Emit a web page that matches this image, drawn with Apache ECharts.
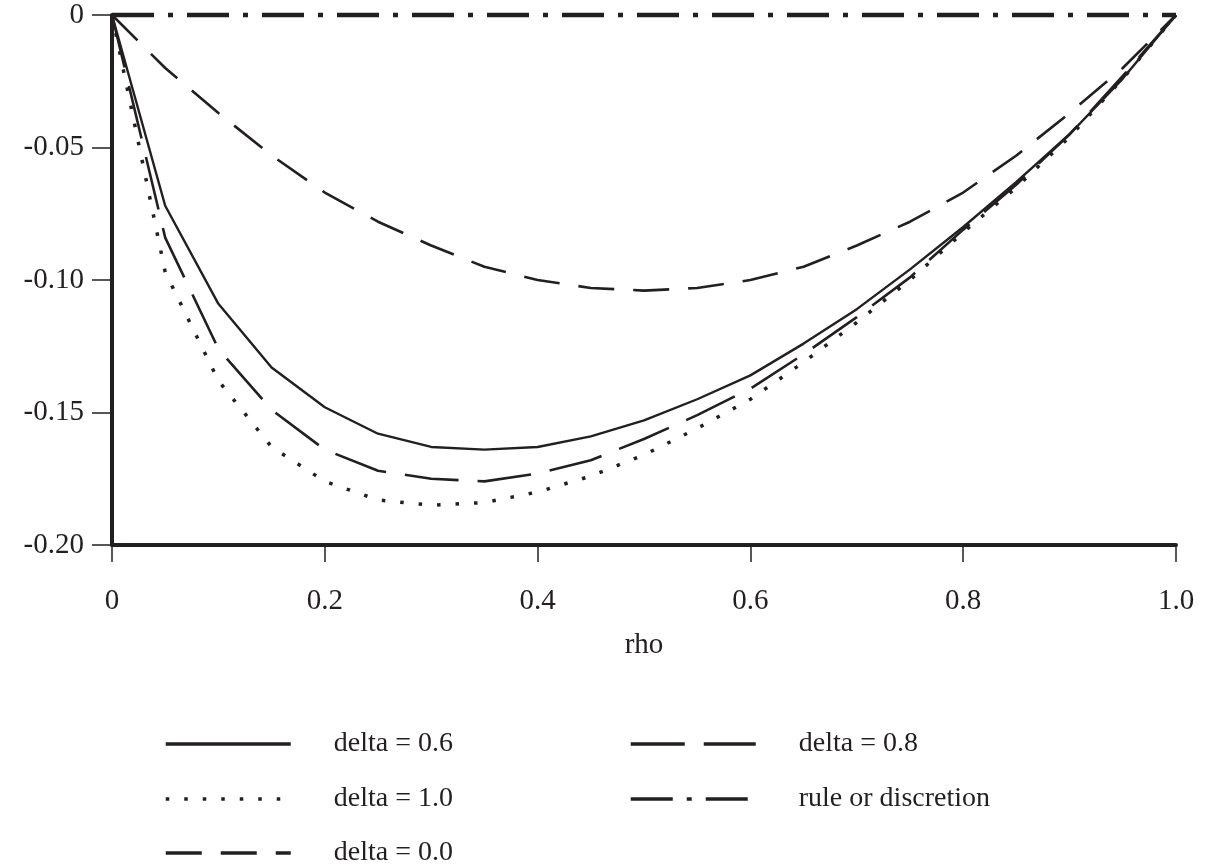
<!DOCTYPE html>
<html>
<head>
<meta charset="utf-8">
<script src="https://cdn.jsdelivr.net/npm/echarts@6/dist/echarts.min.js"></script>
<style>html,body{margin:0;padding:0;background:#fff}#c{width:1207px;height:864px}</style>
</head>
<body>
<div id="c"></div>
<script>
var rho = [0,0.05,0.1,0.15,0.2,0.25,0.3,0.35,0.4,0.45,0.5,0.55,0.6,0.65,0.7,0.75,0.8,0.85,0.9,0.95,1.0];
var delta06 = [0,-0.072,-0.109,-0.133,-0.148,-0.158,-0.163,-0.164,-0.163,-0.159,-0.153,-0.145,-0.136,-0.124,-0.111,-0.096,-0.080,-0.063,-0.045,-0.024,0];
var delta08 = [0,-0.084,-0.126,-0.149,-0.164,-0.172,-0.175,-0.176,-0.173,-0.168,-0.160,-0.151,-0.141,-0.128,-0.114,-0.099,-0.081,-0.064,-0.045,-0.023,0];
var delta10 = [0,-0.097,-0.138,-0.163,-0.176,-0.183,-0.185,-0.184,-0.180,-0.174,-0.166,-0.156,-0.145,-0.131,-0.116,-0.100,-0.082,-0.065,-0.046,-0.024,0];
var delta00 = [0,-0.020,-0.037,-0.053,-0.067,-0.078,-0.087,-0.095,-0.100,-0.103,-0.104,-0.103,-0.100,-0.095,-0.087,-0.078,-0.067,-0.053,-0.037,-0.020,0];
var ruleVals = [0,0,0,0,0,0,0,0,0,0,0,0,0,0,0,0,0,0,0,0,0];
var xTickLabels = ['0','0.2','0.4','0.6','0.8','1.0'];
var yTickLabels = ['-0.20','-0.15','-0.10','-0.05','0'];
var names = ['delta = 0.6','delta = 0.8','delta = 1.0','rule or discretion','delta = 0.0'];

function pairs(v){ return rho.map(function(r,i){ return [r, v[i]]; }); }
var ink = '#231f20';
var font = 'Liberation Serif';

function mk(name, vals, type, width){
  return {
    name: name, type: 'line', data: pairs(vals), symbol: 'none', showSymbol: false, clip: false,
    lineStyle: {color: ink, width: width, type: type, cap: 'butt'},
    itemStyle: {color: ink}, emphasis: {disabled: true}, animation: false
  };
}

function leg(name, left, top){
  return {
    orient: 'horizontal', left: left, top: top,
    itemWidth: 125, itemHeight: 20,
    itemStyle: {opacity: 0, borderWidth: 0},
    lineStyle: {width: 3.5},
    textStyle: {fontFamily: font, fontSize: 28, color: ink, lineHeight: 30, padding: [0,0,0,38]},
    selectedMode: false, data: [name]
  };
}

var chart = echarts.init(document.getElementById('c'), null, {renderer: 'canvas'});
chart.setOption({
  backgroundColor: '#fff',
  animation: false,
  grid: {left: 112, right: 31, top: 15, bottom: 319, containLabel: false},
  legend: [
    leg(names[0], 159, 724),
    leg(names[1], 624, 724),
    leg(names[2], 159, 779),
    leg(names[3], 624, 779),
    leg(names[4], 159, 833)
  ],
  xAxis: {
    type: 'value', min: 0, max: 1, interval: 0.2,
    name: 'rho', nameLocation: 'middle', nameGap: 86,
    nameTextStyle: {fontFamily: font, fontSize: 29, color: ink},
    axisLine: {show: true, onZero: false, lineStyle: {color: ink, width: 4}},
    axisTick: {show: true, length: 17, lineStyle: {color: ink, width: 1.5}},
    axisLabel: {margin: 42, fontFamily: font, fontSize: 29, color: ink,
      formatter: function(v){ return xTickLabels[Math.round(v/0.2)]; }},
    splitLine: {show: false}
  },
  yAxis: {
    type: 'value', min: -0.2, max: 0, interval: 0.05,
    axisLine: {show: true, onZero: false, lineStyle: {color: ink, width: 4}},
    axisTick: {show: true, length: 20, lineStyle: {color: ink, width: 1.5}},
    axisLabel: {margin: 28, fontFamily: font, fontSize: 29, color: ink,
      formatter: function(v){ return yTickLabels[Math.round((v+0.2)/0.05)]; }},
    splitLine: {show: false}
  },
  series: [
    mk(names[0], delta06, 'solid', 2.4),
    mk(names[1], delta08, [54,19], 2.6),
    mk(names[2], delta10, [3.5,15], 3.5),
    mk(names[3], ruleVals, [42,14,5,14], 4.5),
    mk(names[4], delta00, [36,19], 2.6)
  ]
});
</script>
</body>
</html>
